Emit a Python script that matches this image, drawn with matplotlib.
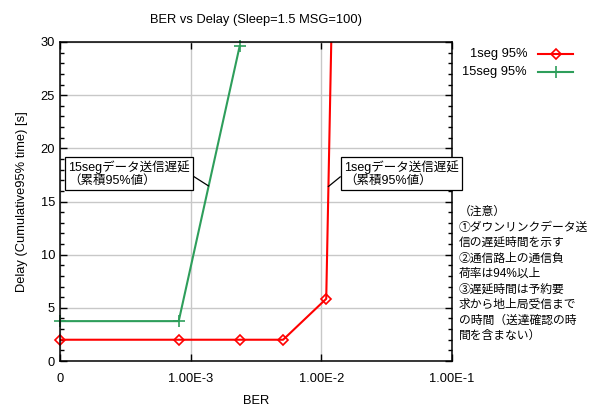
import matplotlib
matplotlib.use('Agg')
import matplotlib.pyplot as plt
from matplotlib.lines import Line2D
from matplotlib.ticker import MultipleLocator, FixedLocator, NullLocator

plt.rcParams['font.family'] = ['Liberation Sans', 'Noto Sans CJK JP', 'DejaVu Sans']

# data (BER = 0 drawn at the left edge, 1e-4)
ber_1seg = [1e-4, 8.1e-4, 2.37e-3, 5.1e-3, 1.09e-2, 1.2e-2]
delay_1seg = [2.0, 2.0, 2.0, 2.0, 5.85, 32.0]
ber_15seg = [1e-4, 8.1e-4, 2.37e-3]
delay_15seg = [3.75, 3.75, 29.6]

xticks = [1e-4, 1e-3, 1e-2, 1e-1]
xticklabels = ['0', '1.00E-3', '1.00E-2', '1.00E-1']

note_lines = ['（注意）', '①ダウンリンクデータ送', '信の遅延時間を示す', '②通信路上の通信負',
              '荷率は94%以上', '③遅延時間は予約要', '求から地上局受信まで', 'の時間（送達確認の時',
              '間を含まない）']

red = '#ff0000'
green = '#2e9e5b'
W, H = 596, 408
fs = 9.3

fig = plt.figure(figsize=(W / 100, H / 100), dpi=100)
ax = fig.add_axes([60 / W, 1 - 361 / H, 392 / W, 319 / H])

ax.plot(ber_1seg, delay_1seg, color=red, lw=1.5)
ax.plot(ber_1seg[:-1], delay_1seg[:-1], ls='none', marker='D', ms=5, mfc='none',
        mec=red, mew=1.2, clip_on=False)
ax.plot(ber_15seg, delay_15seg, color=green, lw=1.5, marker='+', ms=8, mew=1.2, clip_on=False)

ax.set_xscale('log')
ax.set_xlim(1e-4, 1e-1)
ax.set_ylim(0, 30)
ax.xaxis.set_major_locator(FixedLocator(xticks))
ax.set_xticklabels(xticklabels)
ax.xaxis.set_minor_locator(NullLocator())
ax.yaxis.set_major_locator(MultipleLocator(5))
ax.yaxis.set_minor_locator(MultipleLocator(1))
ax.tick_params(which='both', direction='in', top=True, right=True, labelsize=fs, width=1)
ax.tick_params(which='major', length=5)
ax.tick_params(which='minor', length=3)
ax.tick_params(axis='x', pad=9)
ax.grid(True, which='major', color='#c8c8c8', lw=1)
ax.set_axisbelow(True)
for s in ax.spines.values():
    s.set_linewidth(1.1)

ax.set_title('BER vs Delay (Sleep=1.5 MSG=100)', fontsize=fs, pad=14)
ax.set_xlabel('BER', fontsize=fs, labelpad=7)
ax.set_ylabel('Delay (Cumulative95% time) [s]', fontsize=fs, labelpad=9)

box = dict(boxstyle='square,pad=0.25', fc='white', ec='black', lw=0.9)
ax.annotate('15segデータ送信遅延\n（累積95%値）', xy=(1.372e-3, 16.46), xytext=(1.15e-4, 17.6),
            fontsize=9, ha='left', va='center', bbox=box, linespacing=1.1,
            arrowprops=dict(arrowstyle='-', color='black', lw=0.9, relpos=(1, 0.5),
                            shrinkA=0, shrinkB=0))
ax.annotate('1segデータ送信遅延\n（累積95%値）', xy=(1.13e-2, 16.4), xytext=(1.49e-2, 17.6),
            fontsize=9, ha='left', va='center', bbox=box, linespacing=1.1, annotation_clip=False,
            arrowprops=dict(arrowstyle='-', color='black', lw=0.9, relpos=(0, 0.5),
                            shrinkA=0, shrinkB=0))

# legend outside the axes, labels right aligned
for i, (lab, col, mk) in enumerate([('1seg 95%', red, 'D'), ('15seg 95%', green, '+')]):
    yy = 1 - (54 + 17.5 * i) / H
    fig.text(527 / W, yy, lab, ha='right', va='center', fontsize=fs)
    fig.add_artist(Line2D([538 / W, 573 / W], [yy, yy], color=col, lw=1.5,
                          transform=fig.transFigure))
    fig.add_artist(Line2D([555.5 / W], [yy], color=col, marker=mk,
                          ms=5 if mk == 'D' else 8, mfc='none', mew=1.2,
                          transform=fig.transFigure))

for i, line in enumerate(note_lines):
    fig.text(459 / W, 1 - (212 + 15.5 * i) / H, line, ha='left', va='center', fontsize=8.5)

fig.savefig('out.png', dpi=100)
